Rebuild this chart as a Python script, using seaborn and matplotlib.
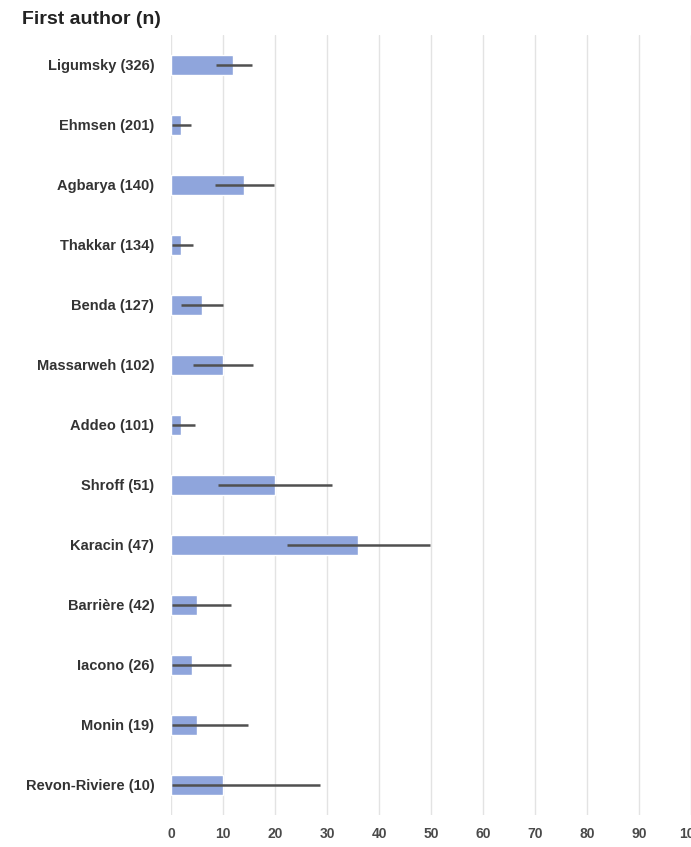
import matplotlib
matplotlib.use("Agg")
import matplotlib.pyplot as plt
import seaborn as sns
import pandas as pd

authors = ["Ligumsky (326)", "Ehmsen (201)", "Agbarya (140)", "Thakkar (134)",
           "Benda (127)", "Massarweh (102)", "Addeo (101)", "Shroff (51)",
           "Karacin (47)", "Barrière (42)", "Iacono (26)", "Monin (19)",
           "Revon-Riviere (10)"]
values = [12, 2, 14, 2, 6, 10, 2, 20, 36, 5, 4, 5, 10]
ci_low = [8.6, 0.1, 8.4, 0.2, 1.9, 4.3, 0.1, 9.1, 22.4, 0.2, 0.2, 0.2, 0.2]
ci_high = [15.5, 3.8, 19.9, 4.3, 10.0, 15.8, 4.6, 31.0, 49.8, 11.5, 11.5, 14.8, 28.6]
x_ticks = [0, 10, 20, 30, 40, 50, 60, 70, 80, 90, 100]

df = pd.DataFrame({"author": authors, "value": values, "lo": ci_low, "hi": ci_high})

sns.set_theme(style="white")
plt.rcParams["font.family"] = ["Liberation Sans", "DejaVu Sans"]

fig = plt.figure(figsize=(6.91, 8.47), dpi=100)
ax = fig.add_axes([0.2475, 0.0378, 0.7525, 0.9209])

sns.barplot(data=df, y="author", x="value", orient="h", color="#8FA5DC",
            saturation=1, width=0.33, errorbar=None, ax=ax, zorder=2)
for i, (lo, hi) in enumerate(zip(ci_low, ci_high)):
    ax.plot([lo, hi], [i, i], color="#505050", lw=1.8, zorder=3, solid_capstyle="butt")

ax.set_xlim(0, 100)
ax.set_ylim(len(authors) - 0.5, -0.5)
ax.set_xticks(x_ticks)
ax.xaxis.grid(True, color="#e3e3e3", lw=1.0)
ax.set_axisbelow(True)
for s in ax.spines.values():
    s.set_visible(False)
ax.tick_params(axis="both", length=0)
ax.tick_params(axis="x", pad=9, labelsize=10, labelcolor="#4a4a4a")
ax.tick_params(axis="y", pad=12, labelsize=10.5, labelcolor="#333333")
for lab in ax.get_yticklabels():
    lab.set_fontweight("bold")
for lab in ax.get_xticklabels():
    lab.set_fontweight("bold")
ax.set_xlabel("")
ax.set_ylabel("")

fig.text(22 / 691, 1 - 20 / 847, "First author (n)", fontsize=14, fontweight="bold",
         color="#222222", va="center", ha="left")

fig.savefig("out.png", dpi=100)
